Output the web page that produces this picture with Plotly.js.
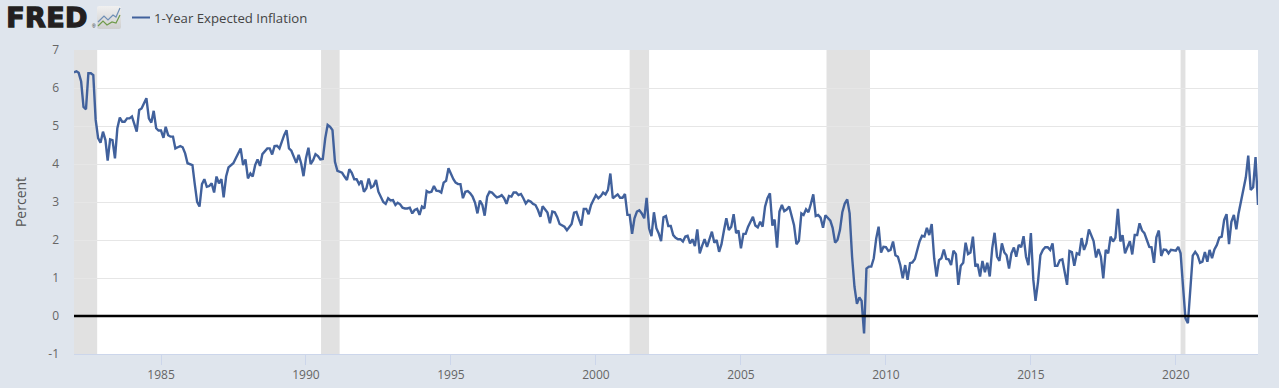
<!DOCTYPE html>
<html>
<head>
<meta charset="utf-8">
<script src="https://cdn.plot.ly/plotly-3.0.1.min.js"></script>
<style>
html,body{margin:0;padding:0;background:#dfe5ed;overflow:hidden}
#chart{width:1279px;height:388px}
.annotation[data-index="0"] text{letter-spacing:0.4px;stroke:#231f20;stroke-width:1.3px}
</style>
</head>
<body>
<div id="chart"></div>
<script>
const seriesName = "1-Year Expected Inflation";
const startYear = 1982;
const y1982 = [6.41,6.44,6.40,6.17,5.50,5.44,6.39,6.39,6.34,5.16,4.68,4.56];
const y1983 = [4.85,4.63,4.09,4.65,4.63,4.15,4.94,5.22,5.11,5.11,5.20,5.20];
const y1984 = [5.25,5.03,4.85,5.42,5.46,5.60,5.73,5.20,5.09,5.40,4.94,4.88];
const y1985 = [4.88,4.69,4.98,4.76,4.72,4.72,4.41,4.44,4.47,4.44,4.28,4.02];
const y1986 = [3.99,3.97,3.49,3.00,2.88,3.47,3.60,3.40,3.42,3.49,3.25,3.67];
const y1987 = [3.49,3.60,3.12,3.67,3.91,3.97,4.02,4.15,4.28,4.41,3.97,4.12];
const y1988 = [3.62,3.75,3.67,3.97,4.12,3.95,4.26,4.35,4.41,4.41,4.25,4.47];
const y1989 = [4.48,4.41,4.59,4.76,4.89,4.41,4.35,4.19,4.03,4.24,4.02,3.68];
const y1990 = [4.15,4.43,4.00,4.10,4.26,4.21,4.12,4.13,4.68,5.03,4.98,4.89];
const y1991 = [4.06,3.82,3.80,3.77,3.67,3.58,3.86,3.77,3.60,3.60,3.47,3.56];
const y1992 = [3.27,3.36,3.62,3.38,3.42,3.58,3.27,3.12,3.00,2.95,3.10,3.04];
const y1993 = [3.05,2.92,2.98,2.94,2.85,2.83,2.83,2.85,2.70,2.79,2.82,2.66];
const y1994 = [2.88,2.83,3.29,3.25,3.27,3.42,3.30,3.29,3.25,3.51,3.56,3.89];
const y1995 = [3.74,3.60,3.51,3.47,3.47,3.10,3.27,3.29,3.23,3.14,2.98,2.70];
const y1996 = [3.04,2.92,2.64,3.14,3.27,3.25,3.18,3.12,3.14,3.18,3.10,2.95];
const y1997 = [3.16,3.14,3.25,3.25,3.18,3.21,3.10,2.96,3.04,3.01,2.95,2.92];
const y1998 = [2.79,2.61,2.89,2.80,2.72,2.44,2.75,2.73,2.60,2.42,2.38,2.35];
const y1999 = [2.26,2.34,2.42,2.72,2.74,2.55,2.38,2.82,2.82,2.68,2.92,3.05];
const y2000 = [3.18,3.10,3.15,3.25,3.20,3.32,3.75,3.10,3.14,3.20,3.11,3.11];
const y2001 = [3.21,2.66,2.66,2.16,2.57,2.75,2.78,2.70,2.57,3.11,2.31,2.10];
const y2002 = [2.73,2.31,2.18,1.97,2.60,2.63,2.37,2.37,2.13,2.06,2.02,2.02];
const y2003 = [1.96,2.09,2.11,1.91,2.02,1.84,2.28,1.65,1.85,2.02,1.82,2.00];
const y2004 = [2.22,1.93,2.00,1.69,1.89,2.25,2.57,2.26,2.35,2.68,2.18,2.25];
const y2005 = [1.78,2.16,2.16,2.35,2.48,2.61,2.38,2.33,2.48,2.35,2.88,3.10];
const y2006 = [3.23,2.38,2.54,1.80,2.75,2.92,2.76,2.80,2.88,2.66,2.39,1.89];
const y2007 = [1.98,2.70,2.66,2.81,2.73,2.95,3.20,2.63,2.66,2.59,2.32,2.65];
const y2008 = [2.57,2.51,2.32,1.93,2.00,2.26,2.73,2.96,3.07,2.70,1.56,0.77];
const y2009 = [0.32,0.49,0.40,-0.46,1.25,1.30,1.30,1.52,2.04,2.35,1.67,1.82];
const y2010 = [1.81,1.71,1.74,1.96,1.60,1.56,1.34,0.99,1.34,0.95,1.39,1.41];
const y2011 = [1.50,1.78,1.96,2.11,2.09,2.32,2.13,2.42,1.52,1.04,1.47,1.52];
const y2012 = [1.75,1.50,1.49,1.34,1.72,1.63,0.82,1.32,1.40,1.93,1.63,1.67];
const y2013 = [2.09,1.30,1.37,1.04,1.45,1.15,1.40,1.04,1.78,2.19,1.56,1.45];
const y2014 = [1.91,1.67,1.60,1.25,1.65,1.80,1.56,1.87,1.81,2.10,1.56,1.34];
const y2015 = [2.18,0.95,0.40,0.90,1.60,1.74,1.81,1.81,1.74,1.91,1.32,1.32];
const y2016 = [1.47,1.49,1.12,0.82,1.71,1.68,1.32,1.65,1.62,2.05,1.74,1.91];
const y2017 = [2.28,2.13,1.97,1.54,1.76,1.56,0.99,1.74,1.65,2.09,1.96,2.06];
const y2018 = [2.82,1.96,2.13,1.65,1.82,1.97,1.62,2.13,2.13,2.44,2.25,2.18];
const y2019 = [2.00,1.82,1.81,1.40,2.07,2.25,1.58,1.75,1.74,1.65,1.74,1.72];
const y2020 = [1.72,1.82,1.65,0.77,-0.06,-0.19,0.68,1.59,1.69,1.60,1.40,1.43];
const y2021 = [1.68,1.43,1.74,1.52,1.75,1.87,2.06,2.09,2.53,2.68,1.89,2.48];
const y2022 = [2.66,2.28,2.70,3.05,3.40,3.65,4.22,3.32,3.39,4.18,2.92];

const yearly = [y1982,y1983,y1984,y1985,y1986,y1987,y1988,y1989,y1990,y1991,y1992,y1993,y1994,y1995,y1996,y1997,y1998,y1999,y2000,y2001,y2002,y2003,y2004,y2005,y2006,y2007,y2008,y2009,y2010,y2011,y2012,y2013,y2014,y2015,y2016,y2017,y2018,y2019,y2020,y2021,y2022];

const recessionStarts = ["1982-01-01","1990-07-10","2001-03-01","2007-12-15","2020-03-01"];
const recessionEnds   = ["1982-10-20","1991-03-01","2001-11-01","2009-06-15","2020-05-01"];
const xTickYears = [1985,1990,1995,2000,2005,2010,2015,2020];
const yTicks = [-1,0,1,2,3,4,5,6,7];

const dates = [], values = [];
yearly.forEach((arr,i)=>arr.forEach((v,j)=>{
  dates.push((startYear+i)+"-"+String(j+1).padStart(2,"0")+"-01");
  values.push(v);
}));

const W = 1279, H = 388, L = 74, R = 21, T = 50, B = 34;
const px = x => (x-L)/(W-L-R);
const py = y => (H-B-y)/(H-T-B);

const shapes = recessionStarts.map((s,i)=>({
  type:"rect", xref:"x", yref:"paper", x0:s, x1:recessionEnds[i], y0:0, y1:1,
  fillcolor:"#e1e1e1", line:{width:0}, layer:"between"
}));
shapes.push({type:"line", xref:"paper", yref:"y", x0:0, x1:1, y0:0, y1:0, line:{color:"#000",width:2.5}, layer:"above"});
shapes.push({type:"line", xref:"paper", yref:"paper", x0:px(132), x1:px(150), y0:py(17.5), y1:py(17.5), line:{color:"#41619c",width:2}});

const icon = "data:image/svg+xml;utf8," + encodeURIComponent(
 '<svg xmlns="http://www.w3.org/2000/svg" width="24" height="23">'+
 '<defs><linearGradient id="g" x1="0" y1="0" x2="0" y2="1"><stop offset="0" stop-color="#f0f0f0"/><stop offset="1" stop-color="#cfcfcf"/></linearGradient></defs>'+
 '<rect width="24" height="23" rx="2" fill="url(#g)"/>'+
 '<polyline points="1,16 7,10 11,14 16,9 19,11 23,2" fill="none" stroke="#6f8fb5" stroke-width="1.2"/>'+
 '<polyline points="1,20 6,15 10,19 15,16 19,17 23,9" fill="none" stroke="#6f9a4a" stroke-width="1.2"/>'+
 '</svg>');

const layout = {
  width:W, height:H,
  margin:{l:L,r:R,t:T,b:B,pad:0},
  paper_bgcolor:"#dfe5ed",
  plot_bgcolor:"#ffffff",
  showlegend:false,
  font:{family:"'Open Sans',sans-serif",size:12,color:"#666"},
  xaxis:{
    type:"date", range:["1982-01-01","2022-11-01"],
    tickvals:xTickYears.map(y=>y+"-01-01"), ticktext:xTickYears.map(String),
    showgrid:false, ticks:"outside", ticklen:10, tickwidth:1, tickcolor:"#ccd6eb",
    showline:true, linecolor:"#ccd6eb", linewidth:1,
    tickfont:{family:"'Open Sans',sans-serif",size:12,color:"#666"}, zeroline:false
  },
  yaxis:{
    range:[-1,7], tickvals:yTicks, ticktext:yTicks.map(String),
    showgrid:true, gridcolor:"#e6e6e6", gridwidth:1, zeroline:false,
    ticks:"", ticklabelstandoff:14, showline:false,
    tickfont:{family:"'Open Sans',sans-serif",size:12,color:"#666"},
    title:{text:"Percent",font:{family:"'Open Sans',sans-serif",size:14,color:"#555"},standoff:18}
  },
  shapes:shapes,
  images:[{source:icon,xref:"paper",yref:"paper",x:px(97),y:py(6),sizex:24/(W-L-R),sizey:23/(H-T-B),xanchor:"left",yanchor:"top",sizing:"stretch",layer:"above"}],
  annotations:[
    {text:"FRED",xref:"paper",yref:"paper",x:px(5),y:py(17.5),xanchor:"left",yanchor:"middle",showarrow:false,
     font:{family:"'DejaVu Sans',sans-serif",size:27,weight:700,color:"#231f20"}},
    {text:"®",xref:"paper",yref:"paper",x:px(90),y:py(26),xanchor:"left",yanchor:"middle",showarrow:false,
     font:{family:"'Liberation Sans',sans-serif",size:5,color:"#231f20"}},
    {text:seriesName,xref:"paper",yref:"paper",x:px(152),y:py(17.5),xanchor:"left",yanchor:"middle",showarrow:false,
     font:{family:"'Open Sans',sans-serif",size:13.2,color:"#444"}}
  ]
};

Plotly.newPlot("chart",[{
  type:"scatter",mode:"lines",name:seriesName,x:dates,y:values,
  line:{color:"#41619c",width:2.4,shape:"linear"},hoverinfo:"x+y"
}],layout,{displayModeBar:false,staticPlot:true});
</script>
</body>
</html>
